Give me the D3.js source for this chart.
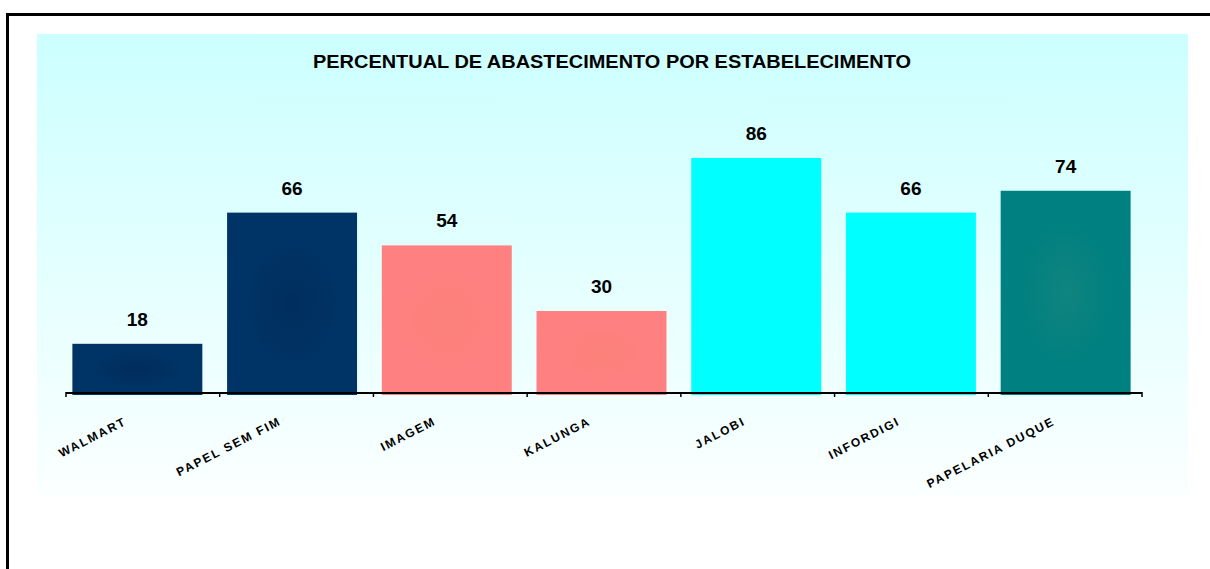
<!DOCTYPE html>
<html><head><meta charset="utf-8">
<script src="https://cdn.jsdelivr.net/npm/d3@7/dist/d3.min.js"></script>
<style>html,body{margin:0;padding:0;background:#fff;}svg{display:block;}</style>
</head><body>
<svg id="c" width="1210" height="569"></svg>
<script>
const title = "PERCENTUAL DE ABASTECIMENTO POR ESTABELECIMENTO";
const categories = ["WALMART","PAPEL SEM FIM","IMAGEM","KALUNGA","JALOBI","INFORDIGI","PAPELARIA DUQUE"];
const values = [18,66,54,30,86,66,74];
const barColors = ["#003366","#003366","#ff8080","#ff8080","#00ffff","#00ffff","#008080"];
const centerColors = ["#002c5c","#002e5e","#fb807a","#fb807a","#00ffff","#00ffff","#10847f"];

const svg = d3.select("#c");
const defs = svg.append("defs");
const bg = defs.append("linearGradient").attr("id","bg").attr("x1",0).attr("y1",0).attr("x2",0).attr("y2",1);
bg.append("stop").attr("offset","0%").attr("stop-color","#ccffff");
bg.append("stop").attr("offset","100%").attr("stop-color","#fbffff");
barColors.forEach((c,i)=>{
  const g = defs.append("radialGradient").attr("id","bar"+i).attr("cx","50%").attr("cy","50%").attr("r","50%");
  g.append("stop").attr("offset","0%").attr("stop-color",centerColors[i]);
  g.append("stop").attr("offset","70%").attr("stop-color",c);
  g.append("stop").attr("offset","100%").attr("stop-color",c);
});

// outer frame
svg.append("rect").attr("x",7.5).attr("y",14.5).attr("width",1220).attr("height",600)
  .attr("fill","#fff").attr("stroke","#000").attr("stroke-width",3);
// plot background
svg.append("rect").attr("x",37).attr("y",34).attr("width",1151).attr("height",463).attr("fill","url(#bg)");

svg.append("text").attr("x",612).attr("y",68).attr("text-anchor","middle")
  .attr("font-family","Liberation Sans, Arial, sans-serif").attr("font-weight","bold")
  .attr("font-size",18).attr("textLength",598).attr("lengthAdjust","spacingAndGlyphs").text(title);

const x = d3.scaleBand().domain(categories).range([60,1143]).paddingInner(0.16).paddingOuter(0.08);
const y = d3.scaleLinear().domain([0,100]).range([393,119.7]);

svg.selectAll("rect.bar").data(values).enter().append("rect").attr("class","bar")
  .attr("x",(d,i)=>x(categories[i])).attr("width",x.bandwidth())
  .attr("y",d=>y(d)).attr("height",d=>y(0)-y(d)+2)
  .attr("fill",(d,i)=>"url(#bar"+i+")");

svg.selectAll("text.val").data(values).enter().append("text").attr("class","val")
  .attr("x",(d,i)=>x(categories[i])+x.bandwidth()/2).attr("y",d=>y(d)-18)
  .attr("text-anchor","middle").attr("font-family","Liberation Sans, Arial, sans-serif")
  .attr("font-weight","bold").attr("font-size",19).text(d=>d);

// axis
const axisG = svg.append("g").attr("transform","translate(0,393)");
axisG.append("line").attr("x1",66).attr("x2",1142).attr("y1",0).attr("y2",0).attr("stroke","#000").attr("stroke-width",2);
const tickX = d3.range(categories.length+1).map(i=>66+i*(1142-66)/categories.length);
axisG.selectAll("line.t").data(tickX).enter().append("line").attr("class","t")
  .attr("x1",d=>d).attr("x2",d=>d).attr("y1",-1).attr("y2",4).attr("stroke","#000").attr("stroke-width",1.5);

svg.selectAll("text.cat").data(categories).enter().append("text").attr("class","cat")
  .attr("transform",(d,i)=>`translate(${x(d)+x.bandwidth()/2-10},${424}) rotate(-27)`)
  .attr("text-anchor","end").attr("font-family","Liberation Sans, Arial, sans-serif")
  .attr("font-weight","bold").attr("font-size",12).attr("letter-spacing",1.8).text(d=>d);
</script>
</body></html>
